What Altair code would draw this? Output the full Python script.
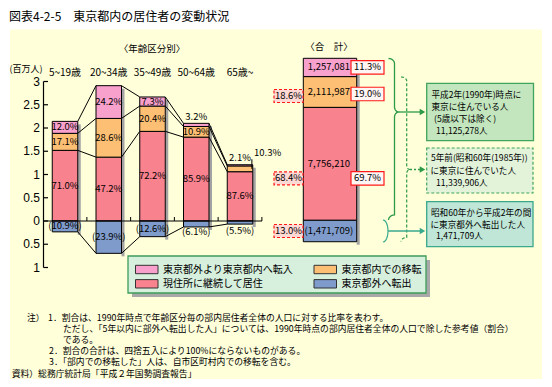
import math
import altair as alt
import pandas as pd

FONT = "Noto Sans CJK JP"
W, H = 536, 371

# ---------------- data ----------------
age_groups = ["5~19歳", "20~34歳", "35~49歳", "50~64歳", "65歳~"]
group_totals = [2.14, 2.91, 2.67, 2.10, 1.21]      # 百万人 (1990, per age group)
pct_inflow = [12.0, 24.2, 7.3, 3.2, 2.1]            # 東京都外より東京都内へ転入
pct_moved = [17.1, 28.6, 20.4, 10.9, 10.3]          # 東京都内での移転
pct_stayed = [71.0, 47.2, 72.2, 85.9, 87.6]         # 現住所に継続して居住
pct_outflow = [10.9, 23.9, 12.6, 6.1, 5.5]          # 東京都外へ転出

total_counts = [1257081, 2111987, 7756210, 1471709]  # inflow, moved, stayed, outflow
share_1990 = ["11.3%", "19.0%", "69.7%"]            # inflow, moved, stayed
share_1985 = ["18.6%", "68.4%", "13.0%"]            # moved, stayed, outflow

categories = ["東京都外より東京都内へ転入", "東京都内での移転", "現住所に継続して居住", "東京都外へ転出"]
cat_colors = ["#F9A1CD", "#FDBF73", "#F9828F", "#7F9BCB"]

y_ticks = [-1, -0.5, 0, 0.5, 1, 1.5, 2, 2.5, 3]
y_tick_labels = ["1", "0.5", "0", "0.5", "1", "1.5", "2", "2.5", "3"]

title_text = "図表4-2-5　東京都内の居住者の変動状況"
box_texts = [
    ["平成2年(1990年)時点に", "東京に住んでいる人", "(5歳以下は除く)", "11,125,278人"],
    ["5年前(昭和60年(1985年))", "に東京に住んでいた人", "11,339,906人"],
    ["昭和60年から平成2年の間", "に東京都外へ転出した人", "1,471,709人"],
]
notes = [
    "注）",
    "1．割合は、1990年時点で年齢区分毎の部内居住者全体の人口に対する比率を表わす。",
    "ただし、「5年以内に部外へ転出した人」については、1990年時点の部内居住者全体の人口で除した参考値（割合）",
    "である。",
    "2．割合の合計は、四捨五入により100%にならないものがある。",
    "3．「部内での移転した」人は、自市区町村内での移転を含む。",
    "資料）総務庁統計局「平成２年国勢調査報告」",
]

# ---------------- helpers ----------------
ONE = pd.DataFrame({"k": [0]})
X_P = alt.Scale(domain=[0, W], range=[0, W])
Y_P = alt.Scale(domain=[0, H], range=[0, H])


def txt(s, x, y, size=10.0, align="left", color="black"):
    return alt.Chart(ONE).mark_text(
        text=s, align=align, baseline="middle", font=FONT, fontSize=size, color=color
    ).encode(x=alt.value(x), y=alt.value(y))


def box(x, x2, y, y2, fill, stroke=None, dash=None, sw=1.0):
    kw = dict(fill=fill)
    if stroke:
        kw.update(stroke=stroke, strokeWidth=sw)
    if dash:
        kw.update(strokeDash=dash)
    return alt.Chart(ONE).mark_rect(**kw).encode(
        x=alt.value(x), x2=alt.value(x2), y=alt.value(y), y2=alt.value(y2)
    )


def polyline(pts, color, dash=None, width=1.2):
    df = pd.DataFrame({"px": [p[0] for p in pts], "py": [p[1] for p in pts],
                       "o": list(range(len(pts)))})
    kw = dict(color=color, strokeWidth=width)
    if dash:
        kw.update(strokeDash=dash)
    return alt.Chart(df).mark_line(**kw).encode(
        x=alt.X("px:Q", scale=X_P, axis=None),
        y=alt.Y("py:Q", scale=Y_P, axis=None),
        order="o:Q",
    )


def brace(xl, xm, yt, yc, yb, rx=6.0, ry=5.0, rx2=4.5, ry2=5.0, n=6):
    pts = []
    for k in range(n + 1):
        t = (math.pi / 2) * k / n
        pts.append((xl + rx * math.sin(t), yt + ry * (1 - math.cos(t))))
    for k in range(n + 1):
        t = (math.pi / 2) * k / n
        pts.append((xm + rx2 * (1 - math.cos(t)), yc - ry2 + ry2 * math.sin(t)))
    for k in range(n, -1, -1):
        t = (math.pi / 2) * k / n
        pts.append((xm + rx2 * (1 - math.cos(t)), yc + ry2 * (1 - math.sin(t))))
    for k in range(n + 1):
        t = (math.pi / 2) * k / n
        pts.append((xm - rx * math.sin(t), yb - ry * math.cos(t)))
    return pts


def arrow(x1, x2, y, color, dash=None):
    kw = dict(color=color, strokeWidth=1.3)
    if dash:
        kw.update(strokeDash=dash)
    line = alt.Chart(ONE).mark_rule(**kw).encode(
        x=alt.value(x1), x2=alt.value(x2 - 4), y=alt.value(y))
    head = alt.Chart(ONE).mark_point(shape="triangle-right", filled=True, size=42,
                                     color=color, opacity=1).encode(
        x=alt.value(x2 - 3.5), y=alt.value(y))
    return [line, head]


layers = []

# background + title
layers.append(box(2, 534, 21.5, 373, "#FFFFDA"))
layers.append(txt(title_text, 1, 8.5, size=12))

# ---------------- left panel: age groups ----------------
X_L = alt.Scale(domain=[0, 4], range=[57, 232])
Y_L = alt.Scale(domain=[-1, 3], range=[259.5, 73.5])
PXX = (232 - 57) / 4.0
PXY = (259.5 - 73.5) / 4.0
HW = 12.75 / PXX
AXIS_X = 35.5

seg_rows, lab_rows, side_rows, shadow_rows = [], [], [], []
bounds = []
for i, g in enumerate(age_groups):
    T = group_totals[i]
    v_st = T * pct_stayed[i] / 100
    v_mv = T * pct_moved[i] / 100
    v_in = T * pct_inflow[i] / 100
    v_out = T * pct_outflow[i] / 100
    top = v_st + v_mv + v_in
    segs = [
        (2, 0.0, v_st, pct_stayed[i]),
        (1, v_st, v_st + v_mv, pct_moved[i]),
        (0, v_st + v_mv, top, pct_inflow[i]),
        (3, -v_out, 0.0, pct_outflow[i]),
    ]
    for ci, a, b, p in segs:
        seg_rows.append(dict(x0=i - HW, x1=i + HW, y0=a, y1=b, col=cat_colors[ci]))
        hpx = (b - a) * PXY
        mid = (a + b) / 2
        if ci == 3:
            t = "(%.1f%%)" % p
            yy = mid if hpx >= 8 else min(-v_out - 5 / PXY, -10 / PXY)
            lab_rows.append(dict(x=i, y=yy, t=t))
        elif ci == 0:
            t = "%.1f%%" % p
            yy = mid if hpx >= 8 else top + 6.5 / PXY
            lab_rows.append(dict(x=i, y=yy, t=t))
        elif ci == 1 and hpx < 8:
            side_rows.append(dict(x=i + HW + 0.03, y=top + 12 / PXY, t="%.1f%%" % p,
                                  lx=i + HW - 0.02, ly=top + 5.5 / PXY, ly2=mid))
        else:
            lab_rows.append(dict(x=i, y=mid, t="%.1f%%" % p))
    shadow_rows.append(dict(x0=i + HW, x1=i + HW + 3 / PXX,
                            y0=top - 3 / PXY, y1=-v_out - 3 / PXY))
    bounds.append([top, v_st + v_mv, v_st, -v_out])

conn_rows = []
for i in range(len(age_groups) - 1):
    for k in range(4):
        conn_rows.append(dict(x0=i + HW, x1=i + 1 - HW, y0=bounds[i][k], y1=bounds[i + 1][k]))

seg_df = pd.DataFrame(seg_rows)
lab_df = pd.DataFrame(lab_rows)
side_df = pd.DataFrame(side_rows)
shadow_df = pd.DataFrame(shadow_rows)
conn_df = pd.DataFrame(conn_rows)

layers.append(alt.Chart(shadow_df).mark_rect(fill="#A3A3A3").encode(
    x=alt.X("x0:Q", scale=X_L, axis=None), x2="x1:Q",
    y=alt.Y("y0:Q", scale=Y_L, axis=None), y2="y1:Q"))

layers.append(alt.Chart(seg_df).mark_rect(stroke="black", strokeWidth=1).encode(
    x=alt.X("x0:Q", scale=X_L, axis=None), x2="x1:Q",
    y=alt.Y("y0:Q", scale=Y_L, axis=None), y2="y1:Q",
    fill=alt.Fill("col:N", scale=None)))

layers.append(alt.Chart(conn_df).mark_rule(color="black", strokeWidth=1).encode(
    x=alt.X("x0:Q", scale=X_L, axis=None), x2="x1:Q",
    y=alt.Y("y0:Q", scale=Y_L, axis=None), y2="y1:Q"))

# y axis drawn from the tick arrays through the left y scale
tick_df = pd.DataFrame({"v": y_ticks, "t": y_tick_labels})
layers.append(alt.Chart(pd.DataFrame({"a": [min(y_ticks)], "b": [max(y_ticks)]})).mark_rule(
    color="black", strokeWidth=1.2).encode(
    x=alt.value(AXIS_X), y=alt.Y("a:Q", scale=Y_L, axis=None), y2="b:Q"))
layers.append(alt.Chart(tick_df).mark_rule(color="black", strokeWidth=1.2).encode(
    x=alt.value(AXIS_X), x2=alt.value(AXIS_X + 4.5), y=alt.Y("v:Q", scale=Y_L, axis=None)))
layers.append(alt.Chart(tick_df).mark_text(font="Liberation Sans", fontSize=12, color="black",
                                           align="right", baseline="middle").encode(
    x=alt.value(AXIS_X - 3.5), y=alt.Y("v:Q", scale=Y_L, axis=None), text="t:N"))

# zero baseline and separator ticks
layers.append(alt.Chart(pd.DataFrame({"y": [0.0]})).mark_rule(color="black", strokeWidth=1.2).encode(
    y=alt.Y("y:Q", scale=Y_L, axis=None), x=alt.value(AXIS_X), x2=alt.value(254)))
sep_df = pd.DataFrame({"x": [i + 0.5 for i in range(len(age_groups))]})
sep_df["y0"] = 0.0
sep_df["y1"] = 4 / PXY
layers.append(alt.Chart(sep_df).mark_rule(color="black", strokeWidth=1).encode(
    x=alt.X("x:Q", scale=X_L, axis=None),
    y=alt.Y("y0:Q", scale=Y_L, axis=None), y2="y1:Q"))

layers.append(alt.Chart(lab_df).mark_text(font=FONT, fontSize=9.5, color="black",
                                          align="center", baseline="middle").encode(
    x=alt.X("x:Q", scale=X_L, axis=None), y=alt.Y("y:Q", scale=Y_L, axis=None), text="t:N"))
if len(side_df):
    layers.append(alt.Chart(side_df).mark_rule(color="black", strokeWidth=1).encode(
        x=alt.X("lx:Q", scale=X_L, axis=None),
        y=alt.Y("ly:Q", scale=Y_L, axis=None), y2="ly2:Q"))
    layers.append(alt.Chart(side_df).mark_text(font=FONT, fontSize=9.5, color="black",
                                               align="left", baseline="middle").encode(
        x=alt.X("x:Q", scale=X_L, axis=None), y=alt.Y("y:Q", scale=Y_L, axis=None), text="t:N"))

age_df = pd.DataFrame({"x": list(range(len(age_groups))), "t": age_groups})
layers.append(alt.Chart(age_df).mark_text(font=FONT, fontSize=10, color="black",
                                          align="center", baseline="middle").encode(
    x=alt.X("x:Q", scale=X_L, axis=None), y=alt.value(65.3), text="t:N"))

layers.append(txt("(百万人)", 18, 60.5, size=9, align="center"))
layers.append(txt("〈年齢区分別〉", 144, 41, size=9.5, align="center"))
layers.append(txt("〈合　計〉", 321, 39, size=9.5, align="center"))

# ---------------- right panel: total ----------------
X_R = alt.Scale(domain=[0, 1], range=[295.3, 348.7])
TOT = total_counts[0] + total_counts[1] + total_counts[2]
Y_R = alt.Scale(domain=[0, TOT], range=[212.3, 50.3])
PXR = 162.0 / TOT
PXRX = 348.7 - 295.3

c_in, c_mv, c_st, c_out = total_counts
r_segs = [
    (2, 0, c_st, "{:,}".format(c_st)),
    (1, c_st, c_st + c_mv, "{:,}".format(c_mv)),
    (0, c_st + c_mv, TOT, "{:,}".format(c_in)),
    (3, -c_out, 0, "({:,})".format(c_out)),
]
r_df = pd.DataFrame([dict(x0=0, x1=1, y0=a, y1=b, col=cat_colors[ci], t=t, ym=(a + b) / 2)
                     for ci, a, b, t in r_segs])
mid_of = {ci: (a + b) / 2 for ci, a, b, t in r_segs}

layers.append(alt.Chart(pd.DataFrame([dict(x0=1, x1=1 + 3 / PXRX, y0=TOT - 3 / PXR,
                                           y1=-c_out - 3 / PXR)])).mark_rect(fill="#A3A3A3").encode(
    x=alt.X("x0:Q", scale=X_R, axis=None), x2="x1:Q",
    y=alt.Y("y0:Q", scale=Y_R, axis=None), y2="y1:Q"))
layers.append(alt.Chart(r_df).mark_rect(stroke="black", strokeWidth=1).encode(
    x=alt.X("x0:Q", scale=X_R, axis=None), x2="x1:Q",
    y=alt.Y("y0:Q", scale=Y_R, axis=None), y2="y1:Q",
    fill=alt.Fill("col:N", scale=None)))
r_lab = r_df.copy()
r_lab["xm"] = 0.48
layers.append(alt.Chart(r_lab).mark_text(font=FONT, fontSize=9.5, color="black",
                                         align="center", baseline="middle").encode(
    x=alt.X("xm:Q", scale=X_R, axis=None), y=alt.Y("ym:Q", scale=Y_R, axis=None), text="t:N"))

# percentage boxes (solid: share of 1990 residents, dashed: share of 1985 residents)
solid_rows = []
for ci, lab, off in zip([0, 1, 2], share_1990, [0, 2, 14.5]):
    c = mid_of[ci] - off / PXR
    solid_rows.append(dict(y0=c + 6.75 / PXR, y1=c - 6.75 / PXR, ym=c, t=lab))
dashed_rows = []
for ci, lab, off in zip([1, 2, 3], share_1985, [4, 14.5, 0]):
    c = mid_of[ci] - off / PXR
    dashed_rows.append(dict(y0=c + 6.5 / PXR, y1=c - 6.5 / PXR, ym=c, t=lab))
for rows, xa, xb, fill, dash in [(solid_rows, 343, 376, "#FFF6F4", None),
                                 (dashed_rows, 266, 295, "#FFD9D4", [3, 2])]:
    dfb = pd.DataFrame(rows)
    kw = dict(fill=fill, stroke="#FF1A1A", strokeWidth=1.2)
    if dash:
        kw.update(strokeDash=dash)
    layers.append(alt.Chart(dfb).mark_rect(**kw).encode(
        x=alt.value(xa), x2=alt.value(xb),
        y=alt.Y("y0:Q", scale=Y_R, axis=None), y2="y1:Q"))
    layers.append(alt.Chart(dfb).mark_text(font=FONT, fontSize=9.5, color="black",
                                           align="center", baseline="middle").encode(
        x=alt.value((xa + xb) / 2), y=alt.Y("ym:Q", scale=Y_R, axis=None), text="t:N"))

# brackets and arrows
GREEN = "#2E9A47"
TEAL = "#3AAA8C"
layers.append(polyline(brace(380.5, 386.5, 50.5, 104, 212), GREEN, width=1.3))
layers.append(polyline(brace(393, 398.7, 69, 161.5, 233.5, rx=5.7, ry=4, rx2=3.5, ry2=4),
                       GREEN, dash=[3, 2], width=1.2))
teal_pts = [(375 + 5 * math.cos(t), 223 + 11 * math.sin(t))
            for t in [-math.pi / 2 + k * math.pi / 12 for k in range(13)]]
layers.append(polyline(teal_pts, TEAL, width=1.2))
layers += arrow(391, 418, 104, GREEN)
layers += arrow(402, 418, 161.5, GREEN, dash=[2, 2])
layers += arrow(380, 418, 223, TEAL)

# explanation boxes
layers.append(box(418.7, 525.5, 75.3, 132.7, "#C3E6BE", stroke="#3FA55B", sw=1.3))
layers.append(box(418.7, 525.0, 140, 185, "#E2F3DA", stroke="#3FA55B", dash=[3, 2], sw=1.2))
layers.append(box(418.7, 525.0, 193.7, 238.7, "#BFE6D6", stroke="#3AA88A", sw=1.3))
box_line_x = [[423.5, 423.5, 426, 428], [423, 422.5, 428], [423, 422.5, 428]]
box_line_y = [[87, 98.7, 111, 123.2], [150.3, 163, 175.3], [205.3, 216.5, 227.5]]
for bi, lines in enumerate(box_texts):
    for li, s in enumerate(lines):
        layers.append(txt(s, box_line_x[bi][li], box_line_y[bi][li], size=8.6))

# legend
layers.append(box(124, 422, 252, 289, "#A8A8A8"))
layers.append(box(120, 418, 248, 285, "#D7EFDD", stroke="#3C9C5A", sw=1.3))
leg_pos = {0: (127.5, 261.5), 1: (306, 261.5), 2: (127.5, 275.8), 3: (306, 275.8)}
for ci in range(len(categories)):
    lx, ly = leg_pos[ci]
    layers.append(box(lx, lx + 22.5, ly - 4.2, ly + 4.2, cat_colors[ci], stroke="#333333", sw=1))
    layers.append(txt(categories[ci], lx + 27.5, ly, size=10))

# notes
note_x = [19, 40, 55, 55, 41, 41, 3.7]
note_y = [309.5 + 11.2 * k for k in [0, 0, 1, 2, 3, 4, 5]]
for s, nx, ny in zip(notes, note_x, note_y):
    layers.append(txt(s, nx, ny, size=8.8))

chart = alt.layer(*layers).resolve_scale(x="independent", y="independent").properties(
    width=W, height=H, autosize=alt.AutoSizeParams(type="none"), padding=0
).configure_view(stroke=None)

chart.save("out.html", embed_options={"renderer": "svg", "actions": False})
